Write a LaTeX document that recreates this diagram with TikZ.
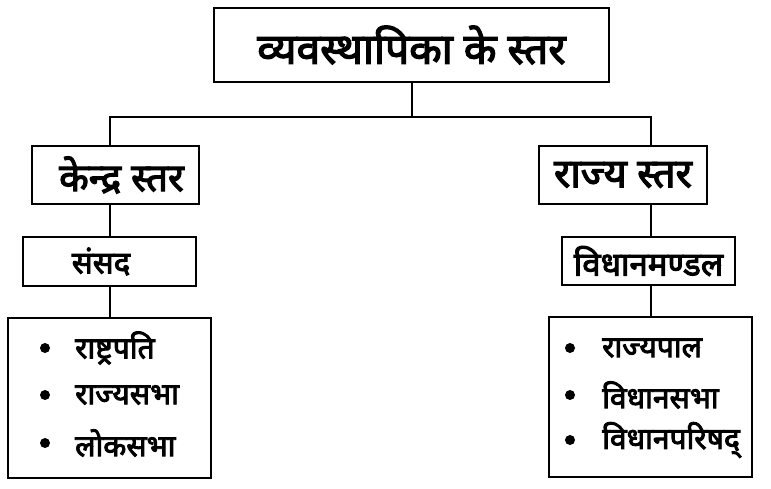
\documentclass[tikz,border=0pt]{standalone}
\usepackage{fontspec}
\newfontfamily\hindi[Script=Devanagari, AutoFakeBold=3]{Noto Sans}
\usetikzlibrary{positioning}

\tikzset{
  levelbox/.style={draw, line width=2.2pt, inner sep=0pt},
  listbox/.style={draw, line width=2.2pt, inner sep=0pt, minimum width=203pt, minimum height=160pt},
  listitem/.style={anchor=west, inner sep=0pt, font=\hindi\bfseries\fontsize{30}{34}\selectfont},
  bulletdot/.style={circle, fill, inner sep=0pt, minimum size=10pt},
  joint/.style={line width=2pt}
}

\begin{document}
\begin{tikzpicture}[x=1pt,y=-1pt]
    \useasboundingbox (0,0) rectangle (771,488);
    % top level
    \node[levelbox, minimum width=395pt, minimum height=74pt, font=\hindi\bfseries\fontsize{42.5}{46}\selectfont] (top) at (411.5,45) {व्यवस्थापिका के स्तर};
    % second level
    \node[levelbox, minimum width=167pt, minimum height=58pt, font=\hindi\bfseries\fontsize{38.5}{42}\selectfont] (kendra) at (115.5,175) {\hspace*{12pt}केन्द्र स्तर};
    \node[levelbox, minimum width=168pt, minimum height=58pt, font=\hindi\bfseries\fontsize{40}{44}\selectfont] (rajya) at (623,175) {राज्य स्तर};
    % third level
    \node[levelbox, minimum width=173pt, minimum height=49pt, font=\hindi\bfseries\fontsize{31}{34}\selectfont] (sansad) at (109.5,261.5) {संसद\hspace*{17pt}};
    \node[levelbox, minimum width=173pt, minimum height=48pt, font=\hindi\bfseries\fontsize{33}{36}\selectfont] (vidhan) at (648.5,261) {विधानमण्डल};
    % lists
    \node[listbox] (kendralist) at (109.5,398) {};
    \node[listbox] (rajyalist) at (650.5,397) {};
    \foreach \name/\y/\txt in {rashtrapati/348/राष्ट्रपति, rajyasabha/395/राज्यसभा, loksabha/443/लोकसभा} {
      \node[bulletdot] (\name-dot) at (45,\y) {};
      \node[listitem] (\name) at (75,\y) {\txt};
    }
    \foreach \name/\y/\txt in {rajyapal/348/राज्यपाल, vidhansabha/395/विधानसभा, vidhanparishad/440/विधानपरिषद्} {
      \node[bulletdot] (\name-dot) at (570,\y) {};
      \node[listitem] (\name) at (602,\y) {\txt};
    }
    % connectors
    \draw[joint] (top.south) -- ++(0,34) coordinate (split);
    \draw[joint] (split) -| (sansad.north |- kendra.north);
    \draw[joint] (split) -| (rajyalist.north |- rajya.north);
    \draw[joint] (sansad.north |- kendra.south) -- (sansad.north);
    \draw[joint] (rajyalist.north |- rajya.south) -- (rajyalist.north |- vidhan.north);
    \draw[joint] (sansad.south) -- (kendralist.north);
    \draw[joint] (rajyalist.north |- vidhan.south) -- (rajyalist.north);
\end{tikzpicture}
\end{document}
